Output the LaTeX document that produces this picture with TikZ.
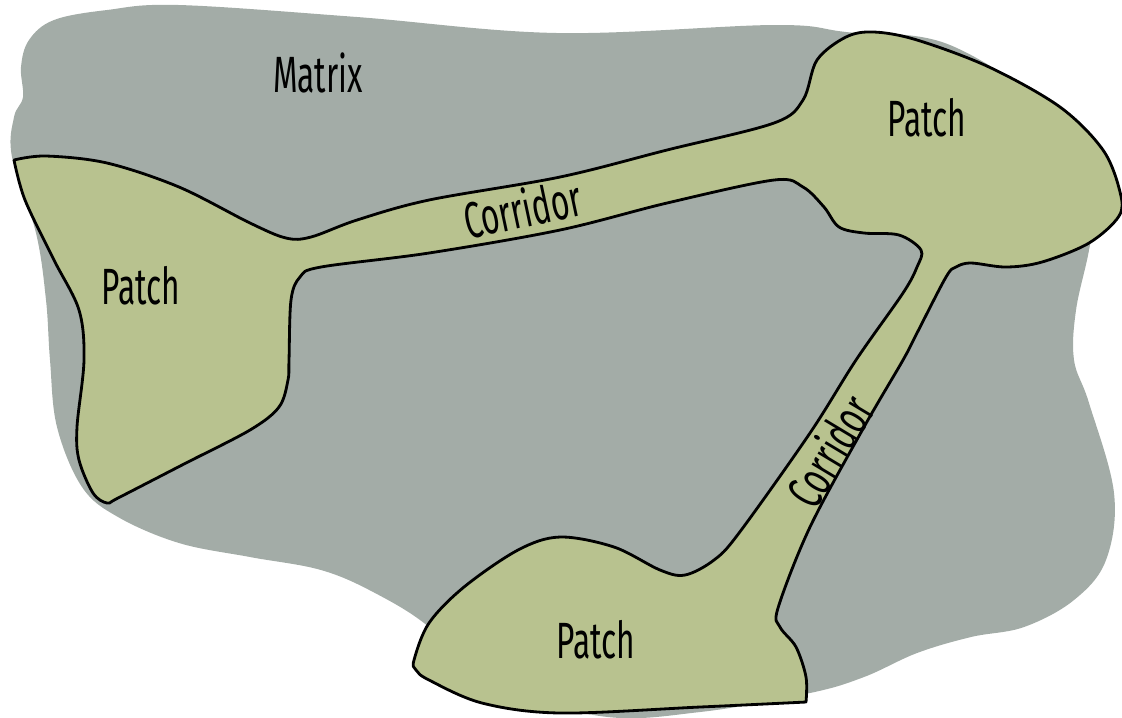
\documentclass[tikz,border=0pt]{standalone}
\usepackage{fontspec}
\usepackage{xcolor}
\usepackage{tikz}
\newfontfamily\lblfont[FakeStretch=0.62]{Fira Sans}
\definecolor{matrixgray}{HTML}{A3ACA7}
\definecolor{patcholive}{HTML}{B8C28F}

\begin{document}
\begin{tikzpicture}[x=0.01cm, y=-0.01cm,
		matrixarea/.style={fill=matrixgray},
		habitat/.style={fill=patcholive, draw=black, line width=0.8pt, line join=round},
		lbl/.style={font=\lblfont\fontsize{14.5}{16}\selectfont, inner sep=0pt}]
	\useasboundingbox (0,0) rectangle (1122,717);
	
	% the matrix
	\fill [matrixarea] plot [smooth cycle, tension=0.6] coordinates {
		(12,157) (14,117) (23,97) (21,67) (29,40) (54,20) (107,10) (179,5)
		(357,17) (557,33) (774,25) (846,32) (950,45) (1060,120) (1095,200)
		(1089,250) (1076,310) (1074,360) (1089,403) (1114,493) (1106,560)
		(1074,600) (1024,627) (971,637) (917,653) (864,677) (810,693)
		(700,712) (600,716) (480,680) (429,627) (375,593) (321,570)
		(250,557) (179,543) (118,517) (82,487) (57,427) (50,360) (46,300) (36,233)};
	
	% patches and corridors
	\draw [habitat] plot [smooth, tension=0.55] coordinates {
		(14,160) (46,156) (107,163) (179,187) (250,223) (286,238) (311,237)
		(357,220) (429,200) (560,177) (667,150) (774,123) (803,100) (817,60)
		(846,37) (874,32) (917,40) (989,67) (1060,107) (1103,150) (1120,192)
		(1119,216) (1089,243) (1042,262) (1006,267) (971,263) (956,267)
		(946,277) (917,333) (903,360) (864,427) (810,527) (778,608) (780,627)
		(796,647) (806,677) (806,702)}
		-- plot [smooth, tension=0.55] coordinates {
		(806,702) (700,707) (560,713) (482,703) (429,680) (416,670) (414,660)
		(429,623) (464,587) (518,550) (560,537) (614,547) (660,570) (685,575)
		(714,560) (739,533) (810,433) (856,360) (903,293) (917,267) (921,250)
		(899,235) (864,233) (839,227) (824,207) (803,187) (774,180) (667,203)
		(560,230) (429,253) (321,267) (300,277) (291,300) (289,360) (288,380)
		(279,407) (250,430) (184,464) (118,498) (107,503) (93,493) (79,460)
		(77,427) (84,360) (79,310) (54,260) (25,200) (14,160)} -- cycle;
	
	\node [lbl] (matrixlbl) at (318,73) {Matrix};
	\node [lbl] (patcha) at (141,286) {Patch};
	\node [lbl] (patchb) at (927,118) {Patch};
	\node [lbl] (patchc) at (596,640) {Patch};
	\node [lbl, rotate=12] (corridora) at (522,208) {Corridor};
	\node [lbl, rotate=59] (corridorb) at (829,451) {Corridor};
\end{tikzpicture}
\end{document}
